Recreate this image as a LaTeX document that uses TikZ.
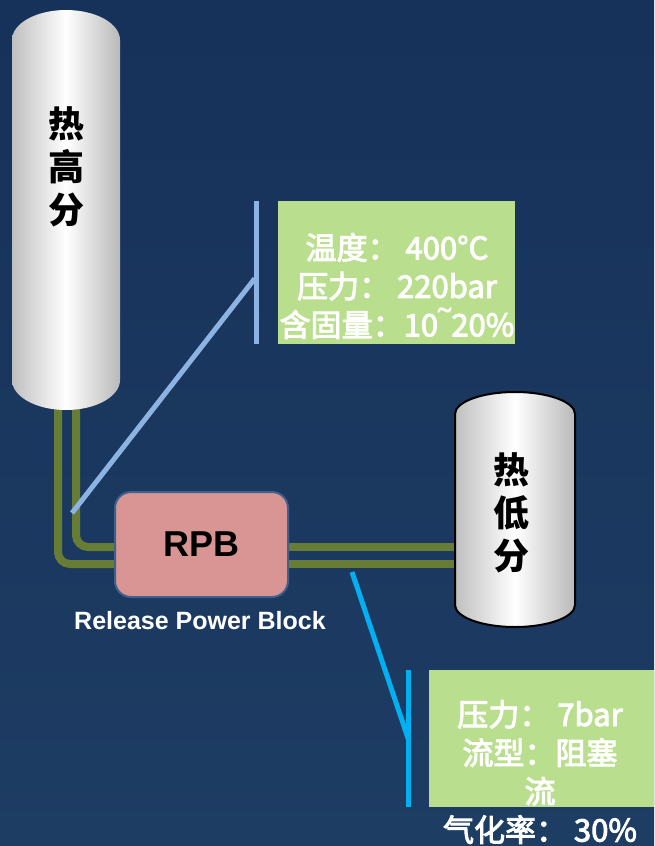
\documentclass[tikz,border=0pt]{standalone}
\usepackage{fontspec}
\setmainfont{Liberation Sans}
\newfontfamily\cjk{Noto Sans CJK SC}
\newfontfamily\cjkinfo{Noto Sans CJK SC}[FakeBold=3]
\newfontfamily\latin{Liberation Sans}
\usetikzlibrary{positioning}

\definecolor{bgtop}{HTML}{16315A}
\definecolor{bgbot}{HTML}{1E3D63}
\definecolor{pipegreen}{HTML}{677C35}
\definecolor{rpbfill}{HTML}{D99594}
\definecolor{rpbedge}{HTML}{40618E}
\definecolor{infogreen}{HTML}{B9DF8E}
\definecolor{hotline}{HTML}{8DB3E2}
\definecolor{coldline}{HTML}{00B0F0}

\begin{document}
\begin{tikzpicture}[x=1pt, y=-1pt,
  pipe/.style={pipegreen, line width=8pt, rounded corners=12pt},
  tag/.style={line width=5pt},
  drum/.style={left color=gray!50, right color=gray!55, middle color=white},
  drumtext/.style={font=\cjk\bfseries\fontsize{36}{43}\selectfont, align=center},
  infobox/.style={fill=infogreen, inner sep=0pt},
  infotext/.style={text=white, font=\cjkinfo\fontsize{31}{38.5}\selectfont, align=center}]
\useasboundingbox (0,0) rectangle (654,846);
\shade[top color=bgtop, bottom color=bgbot] (0,0) rectangle (654,846);

% release power block and data boxes
\node[draw=rpbedge, line width=2pt, fill=rpbfill, rounded corners=16pt,
  minimum width=173pt, minimum height=105pt,
  font=\bfseries\fontsize{36}{40}\selectfont] (rpb) at (201.5,544.5) {RPB};
\node[text=white, font=\bfseries\fontsize{25}{28}\selectfont] (rpbname) at (200,621) {Release Power Block};
\node[infobox, minimum width=237pt, minimum height=143pt] (hotbox) at (396.5,272.5) {};
\node[infobox, minimum width=225pt, minimum height=137pt] (coldbox) at (541.5,738.5) {};

% pipe ends
\coordinate (hp-in) at (76,400);
\coordinate (hp-out) at (58,400);
\coordinate (lp-up) at (460,547);
\coordinate (lp-dn) at (460,564);
\coordinate (hottap) at (72,513);
\coordinate (coldtap) at (352,572);

\draw[pipe] (hp-in) |- (rpb.west |- lp-up);
\draw[pipe] (hp-out) |- (rpb.west |- lp-dn);
\draw[pipe] (rpb.east |- lp-up) -- (lp-up);
\draw[pipe] (rpb.east |- lp-dn) -- (lp-dn);

% drums
\path[drum] (12,40) -- (12,380) arc[start angle=180, end angle=0, x radius=54, y radius=30]
  -- (120,40) arc[start angle=0, end angle=-180, x radius=54, y radius=30] -- cycle;
\path[drum, draw=black, line width=2pt] (455,414) -- (455,605) arc[start angle=180, end angle=0, x radius=60, y radius=22]
  -- (575,414) arc[start angle=0, end angle=-180, x radius=60, y radius=22] -- cycle;
\node[drumtext] (hotsep) at (66,167) {热\\高\\分};
\node[drumtext] (coldsep) at (511,513) {热\\低\\分};

% callouts
\draw[hotline, tag] ([xshift=-21pt]hotbox.north west) -- ([xshift=-21pt]hotbox.south west);
\draw[hotline, tag] ([xshift=-23pt, yshift=-6pt]hotbox.west) -- (hottap);
\draw[coldline, tag] ([xshift=-20pt]coldbox.north west) -- ([xshift=-20pt]coldbox.south west);
\draw[coldline, tag] ([xshift=-20pt, yshift=-2pt]coldbox.west) -- (coldtap);

\node[infotext] (hottext) at (397,286) {温度： 400°C\\压力： 220bar\\含固量：10{\latin\fontsize{40}{38.5}\selectfont ˜}20\%};
\node[infotext] (coldtext) at (540,772) {压力： 7bar\\流型：阻塞\\流\\气化率： 30\%};
\end{tikzpicture}
\end{document}
